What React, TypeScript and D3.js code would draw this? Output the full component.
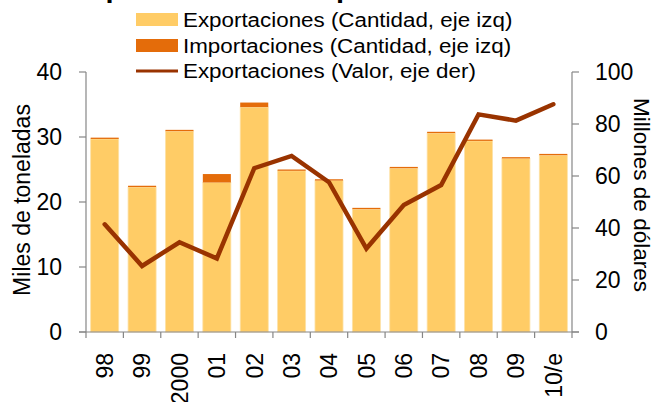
import React from "react";
import * as d3 from "d3";

const categories = ["98", "99", "2000", "01", "02", "03", "04", "05", "06", "07", "08", "09", "10/e"];
const exportQty = [29.7, 22.3, 30.9, 23.0, 34.6, 24.8, 23.3, 18.9, 25.2, 30.6, 29.4, 26.7, 27.2];
const importQty = [0.2, 0.2, 0.2, 1.3, 0.7, 0.2, 0.2, 0.2, 0.2, 0.2, 0.2, 0.2, 0.2];
const exportValue = [41.4, 25.4, 34.5, 28.3, 63.0, 67.7, 57.6, 32.1, 48.8, 56.5, 83.7, 81.3, 87.6];
const leftTicks = [0, 10, 20, 30, 40];
const rightTicks = [0, 20, 40, 60, 80, 100];
const legendLabels = [
  "Exportaciones (Cantidad, eje izq)",
  "Importaciones (Cantidad, eje izq)",
  "Exportaciones (Valor, eje der)",
];
const titleText = "Exportaciones e importaciones";
const leftTitle = "Miles de toneladas";
const rightTitle = "Millones de dólares";

const W = 655;
const H = 402;
const X0 = 86;
const X1 = 572;
const Y0 = 332;
const Y1 = 72;
const FONT = "'Liberation Sans', Arial, sans-serif";
const C_EXP = "#FFCC66";
const C_IMP = "#E46C0A";
const C_LINE = "#993300";
const C_AXIS = "#868686";

export default function App() {
  const x = d3.scaleBand<string>().domain(categories).range([X0, X1]).paddingInner(0.25).paddingOuter(0.125);
  const yL = d3.scaleLinear().domain([0, 40]).range([Y0, Y1]);
  const yR = d3.scaleLinear().domain([0, 100]).range([Y0, Y1]);
  const step = x.step();
  const line = d3
    .line<number>()
    .x((_, i) => (x(categories[i]) as number) + x.bandwidth() / 2)
    .y((d) => yR(d));
  const boundaries = d3.range(categories.length + 1).map((i) => X0 + i * step);

  return (
    <svg
      width={W}
      height={H}
      style={{ position: "absolute", left: 0, top: 0, fontFamily: FONT }}
    >
      <rect x={0} y={0} width={W} height={H} fill="#fff" />
      <text x={70} y={-3} fontSize={29} fontWeight="bold" fill="#000">
        {titleText}
      </text>

      {/* bars */}
      {categories.map((c, i) => {
        const bx = x(c) as number;
        const bw = x.bandwidth();
        return (
          <g key={c}>
            <rect
              x={bx}
              y={yL(exportQty[i])}
              width={bw}
              height={Y0 - yL(exportQty[i])}
              fill={C_EXP}
              stroke="#FDE2A8"
              strokeWidth={0.8}
            />
            <rect
              x={bx}
              y={yL(exportQty[i] + importQty[i])}
              width={bw}
              height={yL(exportQty[i]) - yL(exportQty[i] + importQty[i])}
              fill={C_IMP}
            />
          </g>
        );
      })}

      {/* line */}
      <path
        d={line(exportValue) || ""}
        fill="none"
        stroke={C_LINE}
        strokeWidth={4.5}
        strokeLinejoin="miter"
        strokeLinecap="round"
      />

      {/* left axis */}
      <line x1={X0} x2={X0} y1={Y1} y2={Y0} stroke={C_AXIS} strokeWidth={1.2} />
      {leftTicks.map((t) => (
        <g key={"l" + t}>
          <line x1={X0 - 7} x2={X0} y1={yL(t)} y2={yL(t)} stroke={C_AXIS} strokeWidth={1.2} />
          <text x={62} y={yL(t)} dy="0.36em" textAnchor="end" fontSize={23} fill="#000">
            {t}
          </text>
        </g>
      ))}

      {/* right axis */}
      <line x1={X1} x2={X1} y1={Y1} y2={Y0} stroke={C_AXIS} strokeWidth={1.2} />
      {rightTicks.map((t) => (
        <g key={"r" + t}>
          <line x1={X1} x2={X1 + 7} y1={yR(t)} y2={yR(t)} stroke={C_AXIS} strokeWidth={1.2} />
          <text x={595} y={yR(t)} dy="0.36em" textAnchor="start" fontSize={23} fill="#000">
            {t}
          </text>
        </g>
      ))}

      {/* bottom axis */}
      <line x1={X0 - 7} x2={X1 + 7} y1={Y0} y2={Y0} stroke={C_AXIS} strokeWidth={1.2} />
      {boundaries.map((b, i) => (
        <line key={"b" + i} x1={b} x2={b} y1={Y0} y2={Y0 + 6} stroke={C_AXIS} strokeWidth={1.2} />
      ))}
      {categories.map((c) => (
        <text
          key={"xl" + c}
          transform={`translate(${(x(c) as number) + x.bandwidth() / 2},353) rotate(-90)`}
          dy="0.36em"
          textAnchor="end"
          fontSize={23}
          fill="#000"
        >
          {c}
        </text>
      ))}

      {/* axis titles */}
      <text
        transform="translate(22,200) rotate(-90)"
        dy="0.36em"
        textAnchor="middle"
        fontSize={23}
        fill="#000"
      >
        {leftTitle}
      </text>
      <text
        transform="translate(642,195) rotate(90)"
        dy="0.36em"
        textAnchor="middle"
        fontSize={22.5}
        fill="#000"
      >
        {rightTitle}
      </text>

      {/* legend */}
      <rect x={136} y={13} width={42} height={13} fill={C_EXP} />
      <rect x={136} y={39} width={42} height={13} fill={C_IMP} />
      <line x1={136} x2={178} y1={71} y2={71} stroke={C_LINE} strokeWidth={3} />
      {legendLabels.map((l, i) => (
        <text
          key={l}
          transform={`translate(183,${27 + i * 25.5}) scale(1.065,1)`}
          fontSize={21}
          fill="#000"
        >
          {l}
        </text>
      ))}
    </svg>
  );
}
